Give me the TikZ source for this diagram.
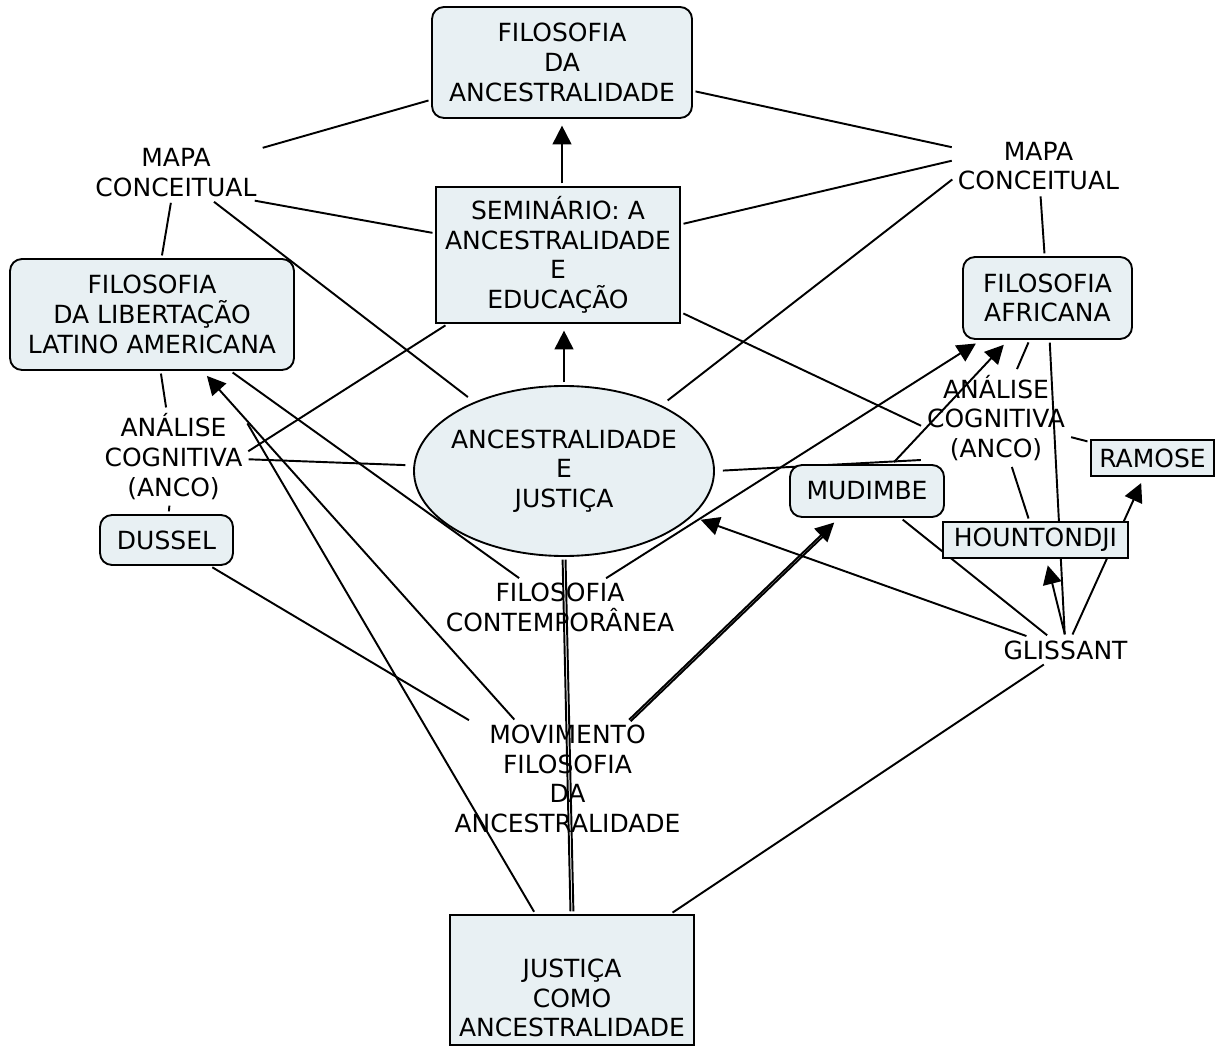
\documentclass[tikz,border=0pt]{standalone}
\usepackage{fontspec}
\setmainfont{DejaVu Sans}
\usetikzlibrary{arrows.meta,shapes.geometric,backgrounds,calc}
\definecolor{conceptfill}{RGB}{232,240,243}
\begin{document}
\begin{tikzpicture}[x=0.75pt,y=-0.75pt,
  every node/.style={font=\fontsize{18.75pt}{22.2pt}\selectfont, align=center, text=black},
  concept/.style={draw=black, line width=1.4pt, fill=conceptfill, inner sep=2pt},
  roundbox/.style={concept, rounded corners=9pt},
  squarebox/.style={concept},
  phrase/.style={inner sep=2.5pt},
  conn/.style={draw=black, line width=1.45pt, shorten <=2pt, shorten >=2pt},
  arr/.style={conn, -{Triangle[length=14pt,width=14pt]}, shorten >=5pt},
  ]
\useasboundingbox (0,0) rectangle (1221,1048);

% concepts
\node[roundbox, minimum width=195pt, minimum height=83.25pt] (FDA) at (562,62.5) {FILOSOFIA\\DA\\ANCESTRALIDADE};
\node[squarebox, minimum width=183pt, minimum height=102pt] (SEM) at (558,255) {SEMINÁRIO: A\\ANCESTRALIDADE\\E\\EDUCAÇÃO};
\node[roundbox, minimum width=213pt, minimum height=83.25pt] (FLLA) at (152,314.5) {FILOSOFIA\\DA LIBERTAÇÃO\\LATINO AMERICANA};
\node[roundbox, minimum width=126.75pt, minimum height=61.5pt] (FAF) at (1047.5,298) {FILOSOFIA\\AFRICANA};
\node[concept, ellipse, minimum width=225pt, minimum height=127.5pt] (AJ) at (564,471) {\makebox[0pt]{ANCESTRALIDADE}\\E\\JUSTIÇA};
\node[roundbox, minimum width=99.75pt, minimum height=37.5pt] (DUSSEL) at (166.5,540) {DUSSEL};
\node[squarebox, minimum width=183pt, minimum height=97.5pt] (JCA) at (572,980) {};
\node (JCAtxt) at (572,998) {JUSTIÇA\\COMO\\ANCESTRALIDADE};
\node[roundbox, minimum width=115.5pt, minimum height=39pt] (MUDIMBE) at (867,491) {MUDIMBE};
\node[squarebox, minimum width=92.25pt, minimum height=27pt] (RAMOSE) at (1152.5,458) {RAMOSE};
\node[squarebox, minimum width=138.75pt, minimum height=27pt] (HOUNT) at (1035.5,540) {HOUNTONDJI};

% linking phrases
\node[phrase] (MAPA1) at (176,172.5) {MAPA\\CONCEITUAL};
\node[phrase] (MAPA2) at (1038.5,166) {MAPA\\CONCEITUAL};
\node[phrase] (ANCO1) at (173.5,456.5) {ANÁLISE\\COGNITIVA\\(ANCO)};
\node[phrase] (ANCO2) at (996,418) {ANÁLISE\\COGNITIVA\\(ANCO)};
\node[phrase] (FC) at (560,607.5) {FILOSOFIA\\CONTEMPORÂNEA};
\node[phrase] (MOV) at (567.5,779) {MOVIMENTO\\FILOSOFIA\\DA\\ANCESTRALIDADE};
\node[phrase] (GLISSANT) at (1065.5,650) {GLISSANT};

\begin{scope}[on background layer]
  \fill[white] (0,0) rectangle (1221,1048);

  % plain connections
  \draw[conn] (MAPA1) -- (FDA);
  \draw[conn] (MAPA1.-20) -- (SEM.170);
  \draw[conn] (MAPA1) -- (FLLA);
  \draw[conn, shorten >=6pt] (MAPA1) -- (AJ);
  \draw[conn] (FDA) -- (MAPA2);
  \draw[conn] (SEM.14) -- (MAPA2.176);
  \draw[conn, shorten >=6pt] (MAPA2.188) -- (AJ.34);
  \draw[conn] (MAPA2) -- (FAF);
  \draw[conn] (SEM.212) -- (ANCO1.3);
  \draw[conn, shorten >=6pt] (ANCO1) -- (AJ);
  \draw[conn] (FLLA) -- (ANCO1);
  \draw[conn] (ANCO1) -- (DUSSEL);
  \draw[conn] (SEM.-25.5) -- (ANCO2.187);
  \draw[conn] (FAF) -- (ANCO2);
  \draw[conn] (ANCO2) -- (RAMOSE);
  \draw[conn] (ANCO2) -- (HOUNT);
  \draw[conn, shorten <=6pt] (AJ.-0.5) -- (ANCO2.210.5);
  \draw[conn] (FLLA) -- (FC);
  \draw[conn] (ANCO1.26) -- (JCA.119);
  \draw[conn] (DUSSEL) -- (MOV);
  \draw[conn] ([xshift=-1.1pt]AJ.south) -- ([xshift=-1.1pt]JCA.north);
  \draw[conn] ([xshift=1.1pt]AJ.south) -- ([xshift=1.1pt]JCA.north);
  \draw[conn] (GLISSANT) -- (JCA);
  \draw[conn] (MUDIMBE) -- (GLISSANT);
  \draw[conn] (FAF) -- (GLISSANT);

  % directed connections
  \draw[arr] (FDA.south |- SEM.north) -- (FDA.south);
  \draw[arr] (AJ.north) -- (AJ.north |- SEM.south);
  \draw[arr] (MOV) -- (FLLA);
  \draw[arr] (FC) -- (FAF);
  \draw[arr] (MUDIMBE) -- (FAF);
  \draw[arr] (MOV) -- (MUDIMBE);
  \draw[conn, shorten >=12pt, transform canvas={shift={(1.2pt,-1.2pt)}}] (MOV) -- (MUDIMBE);
  \draw[arr, shorten >=7pt] (GLISSANT) -- (AJ);
  \draw[arr] (GLISSANT.north) -- ([xshift=8pt]HOUNT.south);
  \draw[arr] (GLISSANT) -- (RAMOSE);
\end{scope}
\end{tikzpicture}
\end{document}
